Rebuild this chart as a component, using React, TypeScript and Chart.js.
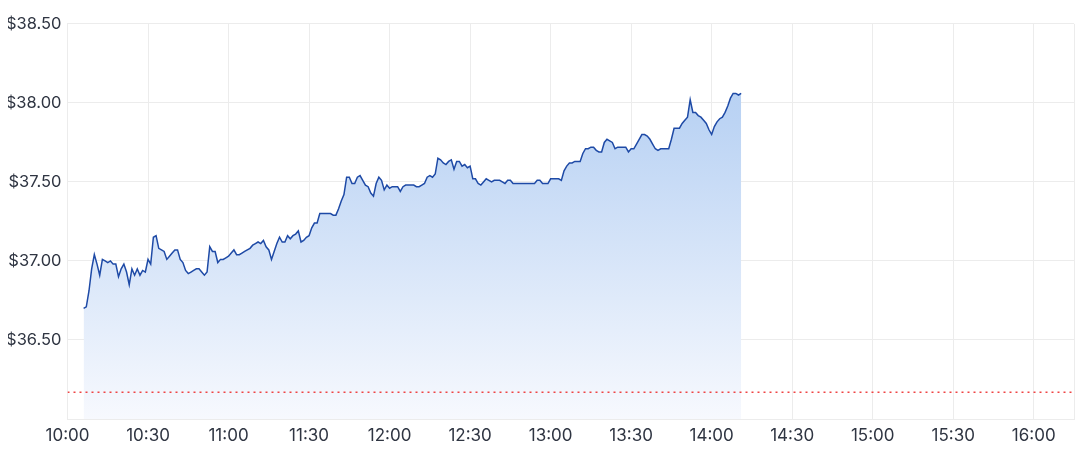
import React, { useEffect, useRef } from "react";
import { Chart, registerables } from "chart.js";

Chart.register(...registerables);

// Session start (minutes after midnight) of the first price point; one point per minute
const firstMinute = 606; // 10:06
const prices: number[] = [
  36.70, 36.71, 36.81, 36.95, 37.04, 36.98, 36.91, 37.01, 37.00, 36.99,
  37.00, 36.98, 36.98, 36.90, 36.95, 36.98, 36.93, 36.85, 36.95, 36.91,
  36.95, 36.91, 36.94, 36.93, 37.01, 36.98, 37.15, 37.16, 37.08, 37.07,
  37.06, 37.01, 37.03, 37.05, 37.07, 37.07, 37.01, 36.99, 36.94, 36.92,
  36.93, 36.94, 36.95, 36.95, 36.93, 36.91, 36.93, 37.09, 37.06, 37.06,
  36.99, 37.01, 37.01, 37.02, 37.03, 37.05, 37.07, 37.04, 37.04, 37.05,
  37.06, 37.07, 37.08, 37.10, 37.11, 37.12, 37.11, 37.13, 37.09, 37.07,
  37.01, 37.06, 37.11, 37.15, 37.12, 37.12, 37.16, 37.14, 37.16, 37.17,
  37.19, 37.12, 37.13, 37.15, 37.16, 37.21, 37.24, 37.24, 37.30, 37.30,
  37.30, 37.30, 37.30, 37.29, 37.29, 37.33, 37.38, 37.42, 37.53, 37.53,
  37.49, 37.49, 37.53, 37.54, 37.51, 37.48, 37.47, 37.43, 37.41, 37.49,
  37.53, 37.51, 37.45, 37.48, 37.46, 37.47, 37.47, 37.47, 37.44, 37.47,
  37.48, 37.48, 37.48, 37.48, 37.47, 37.47, 37.48, 37.49, 37.53, 37.54,
  37.53, 37.55, 37.65, 37.64, 37.62, 37.61, 37.63, 37.64, 37.58, 37.63,
  37.63, 37.60, 37.61, 37.59, 37.60, 37.52, 37.52, 37.49, 37.48, 37.50,
  37.52, 37.51, 37.50, 37.51, 37.51, 37.51, 37.50, 37.49, 37.51, 37.51,
  37.49, 37.49, 37.49, 37.49, 37.49, 37.49, 37.49, 37.49, 37.49, 37.51,
  37.51, 37.49, 37.49, 37.49, 37.52, 37.52, 37.52, 37.52, 37.51, 37.57,
  37.60, 37.62, 37.62, 37.63, 37.63, 37.63, 37.68, 37.71, 37.71, 37.72,
  37.72, 37.70, 37.69, 37.69, 37.75, 37.77, 37.76, 37.75, 37.71, 37.72,
  37.72, 37.72, 37.72, 37.69, 37.71, 37.71, 37.74, 37.77, 37.80, 37.80,
  37.79, 37.77, 37.74, 37.71, 37.70, 37.71, 37.71, 37.71, 37.71, 37.77,
  37.84, 37.84, 37.84, 37.87, 37.89, 37.91, 38.02, 37.94, 37.94, 37.92,
  37.91, 37.89, 37.87, 37.83, 37.80, 37.85, 37.88, 37.90, 37.91, 37.94,
  37.98, 38.03, 38.06, 38.06, 38.05, 38.06,
];
const previousClose = 36.17;

// Axis ranges (minutes after midnight / dollars)
const xMin = 600; // 10:00
const xMax = 975; // 16:15
// Grid/tick positions on the time axis (minutes after midnight); only :00/:30 get labels
const xTicks = [600, 630, 660, 690, 720, 750, 780, 810, 840, 870, 900, 930, 960, 975];
const yMin = 36.0;
const yMax = 38.5;
const yStep = 0.5;

const fmtTime = (m: number) => {
  const h = Math.floor(m / 60);
  const mm = Math.round(m % 60);
  return `${h}:${mm.toString().padStart(2, "0")}`;
};

export default function App() {
  const ref = useRef<HTMLCanvasElement>(null);

  useEffect(() => {
    if (!ref.current) return;
    const priceData = prices.map((p, i) => ({ x: firstMinute + i, y: p }));
    const closeData = [
      { x: xMin, y: previousClose },
      { x: xMax, y: previousClose },
    ];
    const gridColor = "#ececec";
    const tickColor = "#2f3542";
    const chart = new Chart(ref.current, {
      type: "line",
      data: {
        datasets: [
          {
            data: priceData,
            order: 1,
            borderColor: "#1e4aa6",
            borderWidth: 1.5,
            pointRadius: 0,
            tension: 0,
            fill: "start",
            backgroundColor: (ctx: any) => {
              const area = ctx.chart.chartArea;
              if (!area) return "#c8dbf6";
              const g = ctx.chart.ctx.createLinearGradient(0, area.top, 0, area.bottom);
              g.addColorStop(0, "#b2cdf2");
              g.addColorStop(0.25, "#bcd4f4");
              g.addColorStop(1, "#f7f9fe");
              return g;
            },
          },
          {
            data: closeData,
            order: 0,
            borderColor: "#ef4444",
            borderWidth: 1.5,
            borderDash: [2, 4],
            pointRadius: 0,
            fill: false,
          },
        ],
      },
      options: {
        animation: false,
        responsive: true,
        maintainAspectRatio: false,
        layout: { padding: { top: 13, right: 9, left: 0, bottom: 0 } },
        plugins: { legend: { display: false }, tooltip: { enabled: false } },
        scales: {
          x: {
            type: "linear",
            min: xMin,
            max: xMax,
            grid: { color: gridColor, drawTicks: false },
            border: { color: gridColor },
            afterBuildTicks: (s: any) => {
              s.ticks = xTicks.map((v) => ({ value: v }));
            },
            ticks: {
              autoSkip: false,
              maxRotation: 0,
              padding: 7,
              color: tickColor,
              font: { family: "Inter", size: 17 },
              callback: (v: any) => (Number(v) % 30 === 0 ? fmtTime(Number(v)) : ""),
            },
            afterFit: (s: any) => {
              s.height = 31;
            },
          },
          y: {
            min: yMin,
            max: yMax,
            grid: { color: gridColor, drawTicks: false },
            border: { color: gridColor },
            ticks: {
              stepSize: yStep,
              padding: 6,
              color: tickColor,
              font: { family: "Inter", size: 16.5 },
              callback: (v: any) => (Number(v) <= yMin + 1e-9 ? "" : "$" + Number(v).toFixed(2)),
            },
            afterFit: (s: any) => {
              s.width = 59.5;
            },
          },
        },
      },
    });
    return () => chart.destroy();
  }, []);

  return (
    <div style={{ width: 1075, height: 442, position: "relative" }}>
      <canvas ref={ref} />
    </div>
  );
}
